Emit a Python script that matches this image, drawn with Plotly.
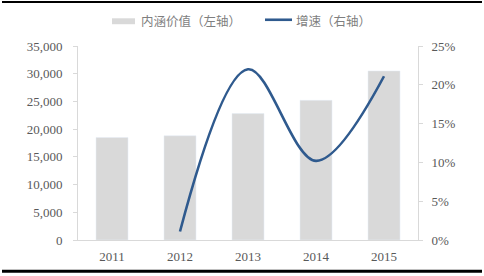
import plotly.graph_objects as go

years = ["2011", "2012", "2013", "2014", "2015"]
value = [18500, 18800, 22800, 25200, 30500]
growth_years = ["2012", "2013", "2014", "2015"]
growth = [1.1, 22.0, 10.2, 21.1]

left_ticks = [0, 5000, 10000, 15000, 20000, 25000, 30000, 35000]
right_ticks = [0, 5, 10, 15, 20, 25]
right_text = ["0%", "5%", "10%", "15%", "20%", "25%"]

W, H = 484, 276
L, R, T, B = 78, 66, 46, 34
PW, PH = W - L - R, H - T - B


def px(x):
    return (x - L) / PW


def py(y):
    return 1 - (y - T) / PH


serif = "Liberation Serif, Times New Roman, serif"
cjk = "Noto Sans CJK SC"
txt = "#595959"
bar_col = "#D9D9D9"
line_col = "#2F5A8E"

fig = go.Figure()
fig.add_trace(go.Bar(x=years, y=value, name="内涵价值（左轴）", marker_color=bar_col,
                     width=0.47, yaxis="y"))
fig.add_trace(go.Scatter(x=growth_years, y=growth, name="增速（右轴）", mode="lines",
                         line=dict(color=line_col, width=2.6, shape="spline", smoothing=1),
                         yaxis="y2"))

fig.update_layout(
    width=W, height=H,
    margin=dict(l=L, r=R, t=T, b=B),
    paper_bgcolor="white", plot_bgcolor="white",
    font=dict(family=serif, size=13, color=txt),
    showlegend=False,
    xaxis=dict(categoryorder="array", categoryarray=years, showline=True, linecolor=bar_col,
               ticks="", showgrid=False, ticklabelstandoff=4,
               tickfont=dict(family=serif, size=13, color=txt)),
    yaxis=dict(range=[0, 35000], tickvals=left_ticks, tickformat=",d", showgrid=False,
               showline=True, linecolor=bar_col, ticks="outside", ticklen=4,
               tickcolor=bar_col, zeroline=False, ticklabelstandoff=8,
               tickfont=dict(family=serif, size=13, color=txt)),
    yaxis2=dict(range=[0, 25], tickvals=right_ticks, ticktext=right_text, overlaying="y",
                side="right", showgrid=False, showline=True, linecolor=bar_col,
                ticks="outside", ticklen=4, tickcolor=bar_col, zeroline=False,
                ticklabelstandoff=6,
                tickfont=dict(family=serif, size=13, color=txt)),
)

# legend drawn manually
fig.add_shape(type="rect", xref="paper", yref="paper", x0=px(112), x1=px(135),
              y0=py(24), y1=py(18), fillcolor=bar_col, line=dict(width=0))
fig.add_annotation(xref="paper", yref="paper", x=px(139), y=py(20), xanchor="left",
                   yanchor="middle", text="内涵价值（左轴）", showarrow=False,
                   font=dict(family=cjk, size=12.5, color="#7F7F7F"))
fig.add_shape(type="line", xref="paper", yref="paper", x0=px(265), x1=px(292),
              y0=py(19.5), y1=py(19.5), line=dict(color=line_col, width=2.6))
fig.add_annotation(xref="paper", yref="paper", x=px(294), y=py(20), xanchor="left",
                   yanchor="middle", text="增速（右轴）", showarrow=False,
                   font=dict(family=cjk, size=12.5, color="#7F7F7F"))

# frame lines at top and bottom
fig.add_shape(type="line", xref="paper", yref="paper", x0=px(2), x1=px(482),
              y0=py(1.5), y1=py(1.5), line=dict(color="black", width=2))
fig.add_shape(type="line", xref="paper", yref="paper", x0=px(2), x1=px(482),
              y0=py(273.5), y1=py(273.5), line=dict(color="black", width=3))
fig.write_html("out.html")
